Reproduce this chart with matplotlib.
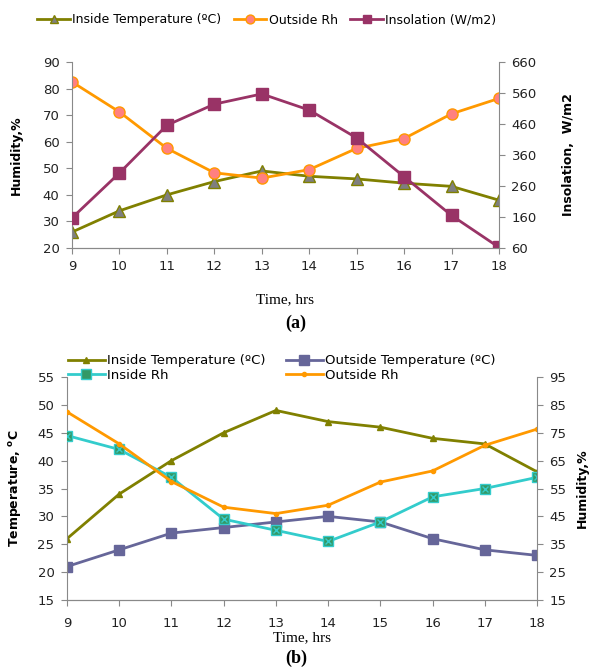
import numpy as np
import matplotlib.pyplot as plt

hours = [9, 10, 11, 12, 13, 14, 15, 16, 17, 18]

# panel (a)
a_inside_temp = [26, 34, 40, 45, 49, 47, 46, 44.4, 43.2, 38]
a_outside_rh = [82.5, 71.2, 57.5, 48.3, 46.3, 49.5, 57.5, 61.2, 70.5, 76.3]
a_insolation = [157, 302, 456, 524, 557, 505, 415, 290, 165, 62]

# panel (b)
b_inside_temp = [26, 34, 40, 45, 49, 47, 46, 44, 43, 38]
b_outside_temp = [21, 24, 27, 28, 29, 30, 29, 26, 24, 23]
b_inside_rh = [74, 69, 59, 44, 40, 36, 43, 52, 55, 59]
b_outside_rh = [82.5, 71, 57.5, 48.3, 46, 49, 57.3, 61.3, 70.5, 76.3]

OLIVE = '#808000'
ORANGE = '#FF9900'
PLUM = '#993366'
SLATE = '#666699'
CYAN = '#33CCCC'
GREEN = '#339966'
GREY = '#898989'
TICKFS = 9.5

def style_axes(ax):
	ax.spines['top'].set_visible(False)
	for s in ['left', 'right', 'bottom']:
		ax.spines[s].set_color(GREY)
	ax.tick_params(colors=GREY, labelcolor='#222222', labelsize=TICKFS, length=4,
				   direction='out', pad=5)

fig = plt.figure(figsize=(5.92, 6.69), dpi=100)

# ---------- (a) ----------
ax1 = fig.add_axes([72/592, 1-248/669, 427/592, 186/669])
ax1.plot(hours, a_inside_temp, color=OLIVE, lw=2, marker='^', ms=8,
		 markerfacecolor='#7f7f7f', markeredgecolor=OLIVE, label='Inside Temperature (ºC)')
ax1.plot(hours, a_outside_rh, color=ORANGE, lw=2, marker='o', ms=8,
		 markerfacecolor='#FF8080', markeredgecolor=ORANGE, label='Outside Rh')
ax1.set_ylim(20, 90)
ax1.set_yticks(np.arange(20, 91, 10))
ax1.set_xlim(9, 18)
ax1.set_xticks(hours)
ax1.set_ylabel('Humidity,%', fontweight='bold', fontsize=9, labelpad=14)
ax1.set_xlabel('Time, hrs', family='Liberation Serif', fontsize=11, labelpad=14)
style_axes(ax1)
ax1.spines['right'].set_visible(False)

ax2 = ax1.twinx()
ax2.plot(hours, a_insolation, color=PLUM, lw=2, marker='s', ms=8,
		 markerfacecolor=PLUM, markeredgecolor=PLUM, label='Insolation (W/m2)')
ax2.set_ylim(60, 660)
ax2.set_yticks(np.arange(60, 661, 100))
ax2.set_xlim(9, 18)
ax2.set_ylabel('Insolation,  W/m2', fontweight='bold', fontsize=9, labelpad=18)
style_axes(ax2)
ax2.spines['left'].set_visible(False)

h = ax1.get_lines() + ax2.get_lines()
fig.legend(h, [l.get_label() for l in h], loc='center left', bbox_to_anchor=(26/592, 1-20/669),
		   ncol=3, frameon=False, fontsize=9, handlelength=2.6, columnspacing=1.0,
		   handletextpad=0.2, markerscale=0.8)
fig.text(0.5, 1-323/669, '(a)', ha='center', va='center', family='Liberation Serif',
		 fontweight='bold', fontsize=13)

# ---------- (b) ----------
ax3 = fig.add_axes([67/592, 1-600/669, 470/592, 223/669])
l1, = ax3.plot(hours, b_inside_temp, color=OLIVE, lw=2, marker='^', ms=4,
			   label='Inside Temperature (ºC)')
l2, = ax3.plot(hours, b_outside_temp, color=SLATE, lw=2, marker='s', ms=7,
			   label='Outside Temperature (ºC)')
ax3.set_ylim(15, 55)
ax3.set_yticks(np.arange(15, 56, 5))
ax3.set_xlim(9, 18)
ax3.set_xticks(hours)
ax3.set_ylabel('Temperature, $^{\\mathbf{o}}$C', fontweight='bold', fontsize=9, labelpad=10)
ax3.set_xlabel('Time, hrs', family='Liberation Serif', fontsize=11, labelpad=1)
style_axes(ax3)
ax3.tick_params(axis='x', pad=8)
ax3.spines['right'].set_visible(False)

ax4 = ax3.twinx()
l3, = ax4.plot(hours, b_inside_rh, color=CYAN, lw=2, marker='s', ms=7,
			   markerfacecolor=GREEN, markeredgecolor=CYAN, label='Inside Rh')
ax4.plot(hours, b_inside_rh, ls='none', marker='x', ms=4, color=CYAN, mew=1)
l4, = ax4.plot(hours, b_outside_rh, color=ORANGE, lw=2, marker='o', ms=3,
			   label='Outside Rh')
ax4.set_ylim(15, 95)
ax4.set_yticks(np.arange(15, 96, 10))
ax4.set_xlim(9, 18)
ax4.set_ylabel('Humidity,%', fontweight='bold', fontsize=9, labelpad=7)
style_axes(ax4)
ax4.spines['left'].set_visible(False)

fig.legend([l1, l3, l2, l4], [l.get_label() for l in [l1, l3, l2, l4]], loc='center left',
		   bbox_to_anchor=(56/592, 1-368/669), ncol=2, frameon=False, fontsize=9.5,
		   handlelength=2.8, columnspacing=1.5, handletextpad=0.2, labelspacing=0.1)
fig.text(0.5, 1-658/669, '(b)', ha='center', va='center', family='Liberation Serif',
		 fontweight='bold', fontsize=13)

fig.savefig('out.png', dpi=100)
